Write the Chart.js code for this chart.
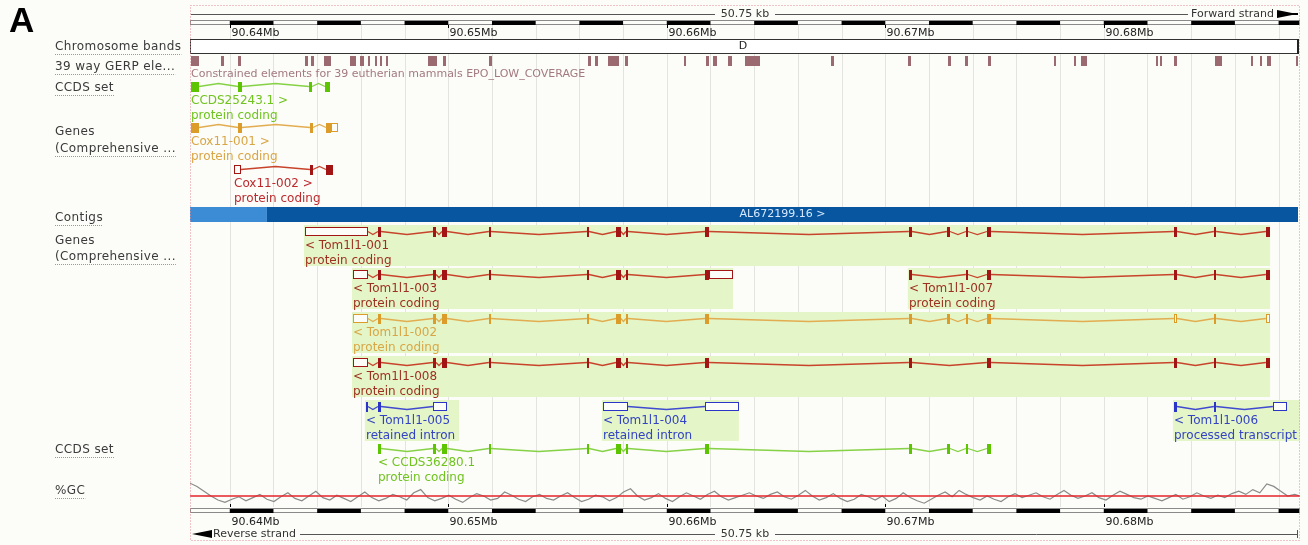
<!DOCTYPE html>
<html>
<head>
<meta charset="utf-8">
<script src="https://cdn.jsdelivr.net/npm/chart.js@4.4.1/dist/chart.umd.min.js"></script>
<style>
  html, body { margin: 0; padding: 0; background: #fcfcf8; }
  #c { display: block; }
</style>
</head>
<body>
<canvas id="c" width="1308" height="545"></canvas>
<script>
// region in view (Mb)
const viewStart = 90.63818
const viewEnd = 90.68898
const spanLabel = '50.75 kb'

const tickMb = [90.64, 90.65, 90.66, 90.67, 90.68]
const tickLabels = ['90.64Mb', '90.65Mb', '90.66Mb', '90.67Mb', '90.68Mb']
// 2 kb divisions of the scale bar
const gridMb = [90.638, 90.640, 90.642, 90.644, 90.646, 90.648, 90.650, 90.652, 90.654,
  90.656, 90.658, 90.660, 90.662, 90.664, 90.666, 90.668, 90.670, 90.672, 90.674,
  90.676, 90.678, 90.680, 90.682, 90.684, 90.686, 90.688, 90.690]

const bandNames = ['D']
const contigStart = [90.63600, 90.64170]
const contigEnd = [90.64170, 90.70000]
const contigNames = ['', 'AL672199.16 >']

// 39 way GERP constrained elements
const gerpStart = [90.63822, 90.63959, 90.64038, 90.64344, 90.64371, 90.64431, 90.64550, 90.64596,
  90.64633, 90.64665, 90.64688, 90.64715, 90.64907, 90.64976, 90.65187, 90.65640, 90.65672,
  90.65731, 90.65809, 90.66079, 90.66180, 90.66212, 90.66280, 90.66358, 90.66752, 90.67104,
  90.67287, 90.67365, 90.67470, 90.67773, 90.67864, 90.67896, 90.68240, 90.68258, 90.68322,
  90.68509, 90.68674, 90.68715, 90.68747, 90.68880]
const gerpEnd = [90.63859, 90.63973, 90.64051, 90.64358, 90.64385, 90.64463, 90.64578, 90.64614,
  90.64642, 90.64674, 90.64697, 90.64724, 90.64948, 90.64989, 90.65200, 90.65653, 90.65685,
  90.65781, 90.65822, 90.66088, 90.66193, 90.66230, 90.66299, 90.66427, 90.66765, 90.67117,
  90.67301, 90.67378, 90.67484, 90.67782, 90.67873, 90.67923, 90.68249, 90.68267, 90.68335,
  90.68541, 90.68683, 90.68724, 90.68765, 90.68889]

// forward strand transcripts
const ccds25243Exons = [[90.63822, 90.63859], [90.64038, 90.64056], [90.64362, 90.64376], [90.64436, 90.64459]]
const cox11_001Exons = [[90.63822, 90.63859], [90.64038, 90.64056], [90.64367, 90.64381], [90.64440, 90.64463]]
const cox11_001Utr = [[90.64463, 90.64495]]
const cox11_002Exons = [[90.64367, 90.64381], [90.64440, 90.64472]]
const cox11_002Utr = [[90.64019, 90.64051]]

// reverse strand Tom1l1 exons (shared between transcripts)
const tom1l1Exons = [[90.64678, 90.64692], [90.64930, 90.64944], [90.64971, 90.64994], [90.65186, 90.65195],
  [90.65635, 90.65644], [90.65768, 90.65790], [90.65813, 90.65822], [90.66175, 90.66193],
  [90.67108, 90.67122], [90.67282, 90.67296], [90.67369, 90.67378], [90.67465, 90.67484],
  [90.68321, 90.68335], [90.68504, 90.68514], [90.68742, 90.68761]]
const T = tom1l1Exons
const tom001Exons = T.slice(0, 15)
const tom001Utr = [[90.64344, 90.64632]]
const tom003Exons = T.slice(0, 8)
const tom003Utr = [[90.64564, 90.64632], [90.66193, 90.66303]]
const tom007Exons = [T[8], T[10], T[11], T[12], T[13], T[14]]
const tom002Exons = T.slice(0, 12).concat([T[13]])
const tom002Utr = [[90.64564, 90.64632], T[12], T[14]]
const tom008Exons = T.slice(0, 9).concat([T[11], T[12], T[13], T[14]])
const tom008Utr = [[90.64564, 90.64632]]
const tom005Exons = [[90.64623, 90.64632], T[0]]
const tom005Utr = [[90.64930, 90.64994]]
const tom004Utr = [[90.65708, 90.65822], [90.66175, 90.66330]]
const tom006Exons = [T[12], T[13]]
const tom006Utr = [[90.68774, 90.68839]]
const ccds36280Exons = T.slice(0, 12)

const transcriptNames = ['CCDS25243.1 >', 'Cox11-001 >', 'Cox11-002 >', '< Tom1l1-001', '< Tom1l1-003',
  '< Tom1l1-007', '< Tom1l1-002', '< Tom1l1-008', '< Tom1l1-005', '< Tom1l1-004', '< Tom1l1-006', '< CCDS36280.1']
const transcriptTypes = ['protein coding', 'protein coding', 'protein coding', 'protein coding', 'protein coding',
  'protein coding', 'protein coding', 'protein coding', 'retained intron', 'retained intron',
  'processed transcript', 'protein coding']

// %GC in windows along the region
const gcStartMb = 90.63818
const gcWindowMb = 0.00032
const gcMean = 40
const gcPercent = [
  56, 52, 46, 40, 35, 32, 36, 39, 34, 38, 42, 36, 33, 39, 44, 37, 34, 40, 46, 38,
  35, 41, 37, 33, 39, 45, 38, 34, 37, 42, 39, 35, 44, 48, 38, 34, 37, 41, 36, 32,
  38, 43, 40, 35, 37, 45, 41, 36, 33, 39, 42, 37, 35, 40, 44, 38, 33, 36, 41, 39,
  34, 38, 45, 49, 40, 35, 38, 43, 37, 33, 39, 44, 40, 36, 42, 46, 39, 35, 38, 41,
  44, 40, 37, 42, 45, 39, 36, 41, 47, 40, 35, 38, 43, 37, 33, 36, 42, 39, 35, 40,
  33, 37, 44, 38, 34, 31, 36, 41, 45, 39, 47, 42, 38, 35, 40, 36, 33, 39, 43, 38,
  41, 44, 39, 36, 42, 47, 41, 37, 40, 44, 38, 35, 41, 46, 42, 38, 36, 40, 37, 34,
  38, 42, 36, 39, 44, 40, 37, 41, 38, 43, 46, 42, 48, 44, 55, 52, 46, 40, 42, 39
]

const leftLabels = [
  ['Chromosome bands', 47, true], ['39 way GERP ele...', 67, true], ['CCDS set', 88, true],
  ['Genes', 132, false], ['(Comprehensive ...', 149, true], ['Contigs', 218, true],
  ['Genes', 241, false], ['(Comprehensive ...', 257, true], ['CCDS set', 450, true], ['%GC', 491, true]
]

// styles
const GREEN = { exon: '#5cc400', line: '#86d246', text: '#70c41f' }
const GOLD = { exon: '#dc9c2a', line: '#e2ad50', text: '#d9a646' }
const RED = { exon: '#a31414', line: '#c8432c', text: '#9e3020' }
const CRIMSON = { exon: '#a31414', line: '#c8432c', text: '#bd2a2e' }
const BLUE = { exon: '#2b35c8', line: '#3f4ad0', text: '#3343c4' }
const HIGHLIGHT = '#e4f5c7'
const BG = '#fcfcf8'

const tracks = [
  { exons: ccds25243Exons, utr: [], row: 86, strand: -1, style: GREEN, hl: false },
  { exons: cox11_001Exons, utr: cox11_001Utr, row: 127, strand: -1, style: GOLD, hl: false },
  { exons: cox11_002Exons, utr: cox11_002Utr, row: 169, strand: -1, style: CRIMSON, hl: false },
  { exons: tom001Exons, utr: tom001Utr, row: 231, strand: 1, style: RED, hl: true },
  { exons: tom003Exons, utr: tom003Utr, row: 274, strand: 1, style: RED, hl: true },
  { exons: tom007Exons, utr: [], row: 274, strand: 1, style: RED, hl: true },
  { exons: tom002Exons, utr: tom002Utr, row: 318, strand: 1, style: GOLD, hl: true },
  { exons: tom008Exons, utr: tom008Utr, row: 362, strand: 1, style: RED, hl: true },
  { exons: tom005Exons, utr: tom005Utr, row: 406, strand: 1, style: BLUE, hl: true },
  { exons: [], utr: tom004Utr, row: 406, strand: 1, style: BLUE, hl: true },
  { exons: tom006Exons, utr: tom006Utr, row: 406, strand: 1, style: BLUE, hl: true },
  { exons: ccds36280Exons, utr: [], row: 448, strand: 1, style: GREEN, hl: false }
].map((t, i) => Object.assign(t, { name: transcriptNames[i], type: transcriptTypes[i] }))

const LABEL_FONT = '12px "DejaVu Sans"'
const SMALL_FONT = '11px "DejaVu Sans"'

function blocksOf(t) {
  return t.exons.map(e => ({ s: e[0], e: e[1], utr: false }))
    .concat(t.utr.map(e => ({ s: e[0], e: e[1], utr: true })))
    .sort((a, b) => a.s - b.s)
}

function drawScaleBar(ctx, x, a, top) {
  ctx.strokeStyle = '#8a8a8a'
  ctx.lineWidth = 1
  ctx.strokeRect(a.left + 0.5, top + 0.5, a.right - a.left - 1, 4)
  ctx.fillStyle = '#000'
  for (let i = 1; i < gridMb.length - 1; i += 2) {
    const x1 = Math.max(a.left, x.getPixelForValue(gridMb[i]))
    const x2 = Math.min(a.right - 1, x.getPixelForValue(gridMb[i + 1]))
    if (x2 > x1) ctx.fillRect(x1, top + 1, x2 - x1, 4)
  }
}

const genomePlugin = {
  id: 'genome',
  beforeDraw(chart) {
    const { ctx, chartArea: a, scales: { x, y } } = chart
    const X = v => x.getPixelForValue(v)
    const Y = v => y.getPixelForValue(v)
    ctx.save()
    ctx.fillStyle = BG
    ctx.fillRect(0, 0, chart.width, chart.height)

    // panel letter
    ctx.fillStyle = '#000'
    ctx.font = 'bold 35px "Liberation Sans"'
    ctx.textBaseline = 'alphabetic'
    ctx.fillText('A', 9, 32)

    // vertical grid
    ctx.strokeStyle = '#e3e3df'
    ctx.lineWidth = 1
    for (const g of gridMb) {
      const px = Math.round(X(g)) + 0.5
      if (px <= a.left + 1 || px >= a.right - 1) continue
      ctx.beginPath(); ctx.moveTo(px, Y(25)); ctx.lineTo(px, Y(507)); ctx.stroke()
    }

    // top scale
    const mid = (a.left + a.right) / 2
    ctx.font = SMALL_FONT
    ctx.textBaseline = 'middle'
    ctx.strokeStyle = '#555'
    ctx.fillStyle = '#333'
    ctx.textAlign = 'center'
    ctx.fillText(spanLabel, mid, Y(14))
    ctx.beginPath()
    ctx.moveTo(a.left + 1, Y(14) + 0.5); ctx.lineTo(mid - 30, Y(14) + 0.5)
    ctx.moveTo(mid + 30, Y(14) + 0.5); ctx.lineTo(a.right - 112, Y(14) + 0.5)
    ctx.stroke()
    ctx.textAlign = 'right'
    ctx.fillText('Forward strand', a.right - 26, Y(14))
    ctx.fillStyle = '#000'
    ctx.beginPath()
    ctx.moveTo(a.right - 23, Y(10)); ctx.lineTo(a.right - 3, Y(14)); ctx.lineTo(a.right - 23, Y(18)); ctx.closePath()
    ctx.fill()
    ctx.fillRect(a.right - 23, Y(13), 21, 2)

    drawScaleBar(ctx, x, a, Y(20))
    drawScaleBar(ctx, x, a, Y(508))
    ctx.fillStyle = '#222'
    ctx.textAlign = 'left'
    ctx.strokeStyle = '#000'
    tickMb.forEach((m, i) => {
      const px = Math.round(X(m)) + 0.5
      ctx.beginPath(); ctx.moveTo(px, Y(25)); ctx.lineTo(px, Y(28)); ctx.moveTo(px, Y(504)); ctx.lineTo(px, Y(507)); ctx.stroke()
      ctx.fillText(tickLabels[i], px + 1, Y(33))
      ctx.fillText(tickLabels[i], px + 1, Y(522))
    })

    // bottom strand line
    ctx.fillStyle = '#000'
    ctx.beginPath()
    ctx.moveTo(a.left + 22, Y(530)); ctx.lineTo(a.left + 2, Y(534)); ctx.lineTo(a.left + 22, Y(538)); ctx.closePath()
    ctx.fill()
    ctx.fillStyle = '#333'
    ctx.textAlign = 'left'
    ctx.fillText('Reverse strand', a.left + 23, Y(534))
    ctx.textAlign = 'center'
    ctx.fillText(spanLabel, mid, Y(534))
    ctx.strokeStyle = '#555'
    ctx.beginPath()
    ctx.moveTo(a.left + 110, Y(534) + 0.5); ctx.lineTo(mid - 30, Y(534) + 0.5)
    ctx.moveTo(mid + 30, Y(534) + 0.5); ctx.lineTo(a.right - 2, Y(534) + 0.5)
    ctx.moveTo(a.right - 2.5, Y(530)); ctx.lineTo(a.right - 2.5, Y(538))
    ctx.stroke()

    // chromosome band
    ctx.fillStyle = '#ffffff'
    ctx.fillRect(a.left, Y(39), a.right - a.left - 2, 14)
    ctx.strokeStyle = '#333'
    ctx.strokeRect(a.left + 0.5, Y(39) + 0.5, a.right - a.left - 3, 14)
    ctx.fillStyle = '#222'
    ctx.fillRect(a.right - 3, Y(39), 2, 15)
    ctx.textAlign = 'center'
    ctx.fillText(bandNames[0], mid - 2, Y(46.5))

    // GERP
    ctx.fillStyle = '#9b6a71'
    gerpStart.forEach((s, i) => {
      const x1 = Math.round(X(s)), w = Math.max(2, Math.round(X(gerpEnd[i])) - x1)
      ctx.fillRect(x1, Y(56), w, 10)
    })
    ctx.fillStyle = '#a27a80'
    ctx.textAlign = 'left'
    ctx.fillText('Constrained elements for 39 eutherian mammals EPO_LOW_COVERAGE', a.left + 1, Y(74))

    // contigs
    const contigColors = ['#3b8bd5', '#07569f']
    contigStart.forEach((s, i) => {
      const x1 = Math.max(a.left, X(s)), x2 = Math.min(a.right - 2, X(contigEnd[i]))
      ctx.fillStyle = contigColors[i % 2]
      ctx.fillRect(x1, Y(207), x2 - x1, 15)
      if (contigNames[i]) {
        ctx.fillStyle = '#d6e9ff'
        ctx.textAlign = 'center'
        ctx.fillText(contigNames[i], (x1 + x2) / 2, Y(214.5))
      }
    })

    // gene highlights
    ctx.font = LABEL_FONT
    ctx.textAlign = 'left'
    for (const t of tracks) {
      if (!t.hl) continue
      const b = blocksOf(t)
      const x1 = X(b[0].s), x2 = X(b[b.length - 1].e)
      const lw = Math.max(ctx.measureText(t.name).width, ctx.measureText(t.type).width)
      const right = Math.min(a.right, Math.max(x2, x1 + lw + 4))
      ctx.fillStyle = HIGHLIGHT
      ctx.fillRect(x1 - 1, Y(t.row - 6), right - x1 + 1, 41)
    }

    // transcripts
    for (const t of tracks) {
      const yc = Math.round(Y(t.row))
      const b = blocksOf(t)
      ctx.strokeStyle = t.style.line
      ctx.lineWidth = 1.3
      for (let i = 0; i < b.length - 1; i++) {
        const x1 = X(b[i].e), x2 = X(b[i + 1].s)
        if (x2 - x1 < 1) continue
        ctx.beginPath()
        ctx.moveTo(x1, yc + 0.5)
        if (x2 - x1 > 5) ctx.lineTo((x1 + x2) / 2, yc + 0.5 + t.strand * 3)
        ctx.lineTo(x2, yc + 0.5)
        ctx.stroke()
      }
      ctx.lineWidth = 1
      for (const bl of b) {
        const x1 = Math.round(X(bl.s)), w = Math.max(2, Math.round(X(bl.e)) - x1)
        if (bl.utr) {
          ctx.fillStyle = BG
          ctx.fillRect(x1, yc - 3, w, 7)
          ctx.strokeStyle = t.style.exon
          ctx.strokeRect(x1 + 0.5, yc - 3.5, w - 1, 8)
        } else {
          ctx.fillStyle = t.style.exon
          ctx.fillRect(x1, yc - 4, w, 10)
        }
      }
      ctx.fillStyle = t.style.text
      ctx.font = LABEL_FONT
      ctx.textAlign = 'left'
      const lx = Math.round(X(b[0].s))
      ctx.fillText(t.name, lx, yc + 15)
      ctx.fillText(t.type, lx, yc + 30)
    }

    // left track labels
    ctx.font = LABEL_FONT
    ctx.letterSpacing = '0.4px'
    ctx.textAlign = 'left'
    for (const [txt, yy, ul] of leftLabels) {
      ctx.fillStyle = '#3a3a3a'
      ctx.fillText(txt, 55, Y(yy))
      if (ul) {
        const w = ctx.measureText(txt).width
        ctx.strokeStyle = '#9a9a9a'
        ctx.setLineDash([1, 1])
        ctx.beginPath(); ctx.moveTo(55, Y(yy) + 7.5); ctx.lineTo(55 + w, Y(yy) + 7.5); ctx.stroke()
        ctx.setLineDash([])
      }
    }
    ctx.letterSpacing = '0px'
    ctx.restore()
  },
  afterDraw(chart) {
    const { ctx, chartArea: a } = chart
    ctx.save()
    ctx.strokeStyle = '#e58c96'
    ctx.lineWidth = 1
    ctx.setLineDash([1, 2])
    ctx.strokeRect(a.left + 0.5, a.top + 0.5, a.right - a.left - 1, a.bottom - a.top - 1)
    ctx.restore()
  }
}

new Chart(document.getElementById('c'), {
  type: 'line',
  data: {
    datasets: [
      {
        label: 'mean',
        data: [{ x: viewStart, y: gcMean }, { x: viewEnd, y: gcMean }],
        borderColor: '#e3262c', borderWidth: 1.5, pointRadius: 0, yAxisID: 'yGC'
      },
      {
        label: '%GC',
        data: gcPercent.map((v, i) => ({ x: gcStartMb + i * gcWindowMb, y: v })),
        borderColor: '#8a8a8a', borderWidth: 1.2, pointRadius: 0, tension: 0, yAxisID: 'yGC'
      }
    ]
  },
  options: {
    responsive: false,
    animation: false,
    layout: { padding: { left: 190, right: 8, top: 5, bottom: 4 } },
    plugins: { legend: { display: false }, tooltip: { enabled: false } },
    scales: {
      x: { type: 'linear', min: viewStart, max: viewEnd, display: false },
      y: { type: 'linear', min: 5, max: 541, reverse: true, display: false },
      yGC: { type: 'linear', min: -16.25, max: 653.75, display: false }
    }
  },
  plugins: [genomePlugin]
})
</script>
</body>
</html>
